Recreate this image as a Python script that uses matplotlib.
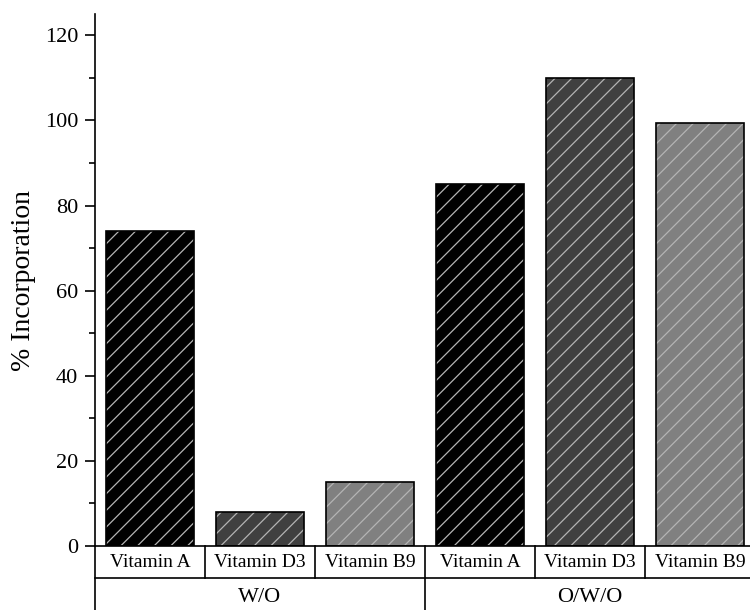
import matplotlib.pyplot as plt
import numpy as np

plt.rcParams['font.family'] = ['Liberation Serif', 'DejaVu Serif']
plt.rcParams['hatch.linewidth'] = 0.9

# data
groups = ['W/O', 'O/W/O']
vitamins = ['Vitamin A', 'Vitamin D3', 'Vitamin B9']
wo_values = [74, 8, 15]
owo_values = [85, 110, 99.3]
bar_colors = ['#000000', '#404040', '#808080']

values = wo_values + owo_values
labels = vitamins + vitamins
colors = bar_colors + bar_colors
x = np.arange(len(values)) + 0.5

fig = plt.figure(figsize=(7.5, 6.1), dpi=100)
# axes runs a bit past the right edge, like the original crop
ax = fig.add_axes([95 / 750, 64 / 610, 660 / 750, 532 / 610])

# fill + hatch, then black outline on top
ax.bar(x, values, width=0.8, color=colors, edgecolor='#b4b4b4', hatch='//', linewidth=0)
ax.bar(x, values, width=0.8, fill=False, edgecolor='black', linewidth=1.2)

ax.set_xlim(0, 6)
ax.set_ylim(0, 125)
ax.set_yticks(np.arange(0, 121, 20))
ax.set_yticks(np.arange(10, 121, 20), minor=True)
ax.tick_params(axis='y', which='major', direction='out', length=7, width=1.2, labelsize=16, pad=5)
ax.tick_params(axis='y', which='minor', direction='out', length=4, width=1.2)
ax.set_xticks([])
for s in ['top', 'right']:
    ax.spines[s].set_visible(False)
for s in ['left', 'bottom']:
    ax.spines[s].set_linewidth(1.2)

# category table under the axis
row1 = -32 / 4.25
row2 = -66 / 4.25
lk = dict(color='black', linewidth=1.2, clip_on=False)
ax.plot([0, 6], [row1, row1], **lk)
ax.plot([0, 0], [0, row2], **lk)
for b in [1, 2, 4, 5]:
    ax.plot([b, b], [0, row1], **lk)
ax.plot([3, 3], [0, row2], **lk)

for xi, lab in zip(x, labels):
    ax.text(xi, row1 / 2, lab, ha='center', va='center', fontsize=14, clip_on=False)
for gi, g in enumerate(groups):
    ax.text(1.5 + 3 * gi, -51 / 4.25, g, ha='center', va='center', fontsize=16, clip_on=False)

fig.text(24 / 750, 1 - 280 / 610, '% Incorporation', rotation=90, ha='center', va='center', fontsize=20)

plt.savefig('out.png', dpi=100)
